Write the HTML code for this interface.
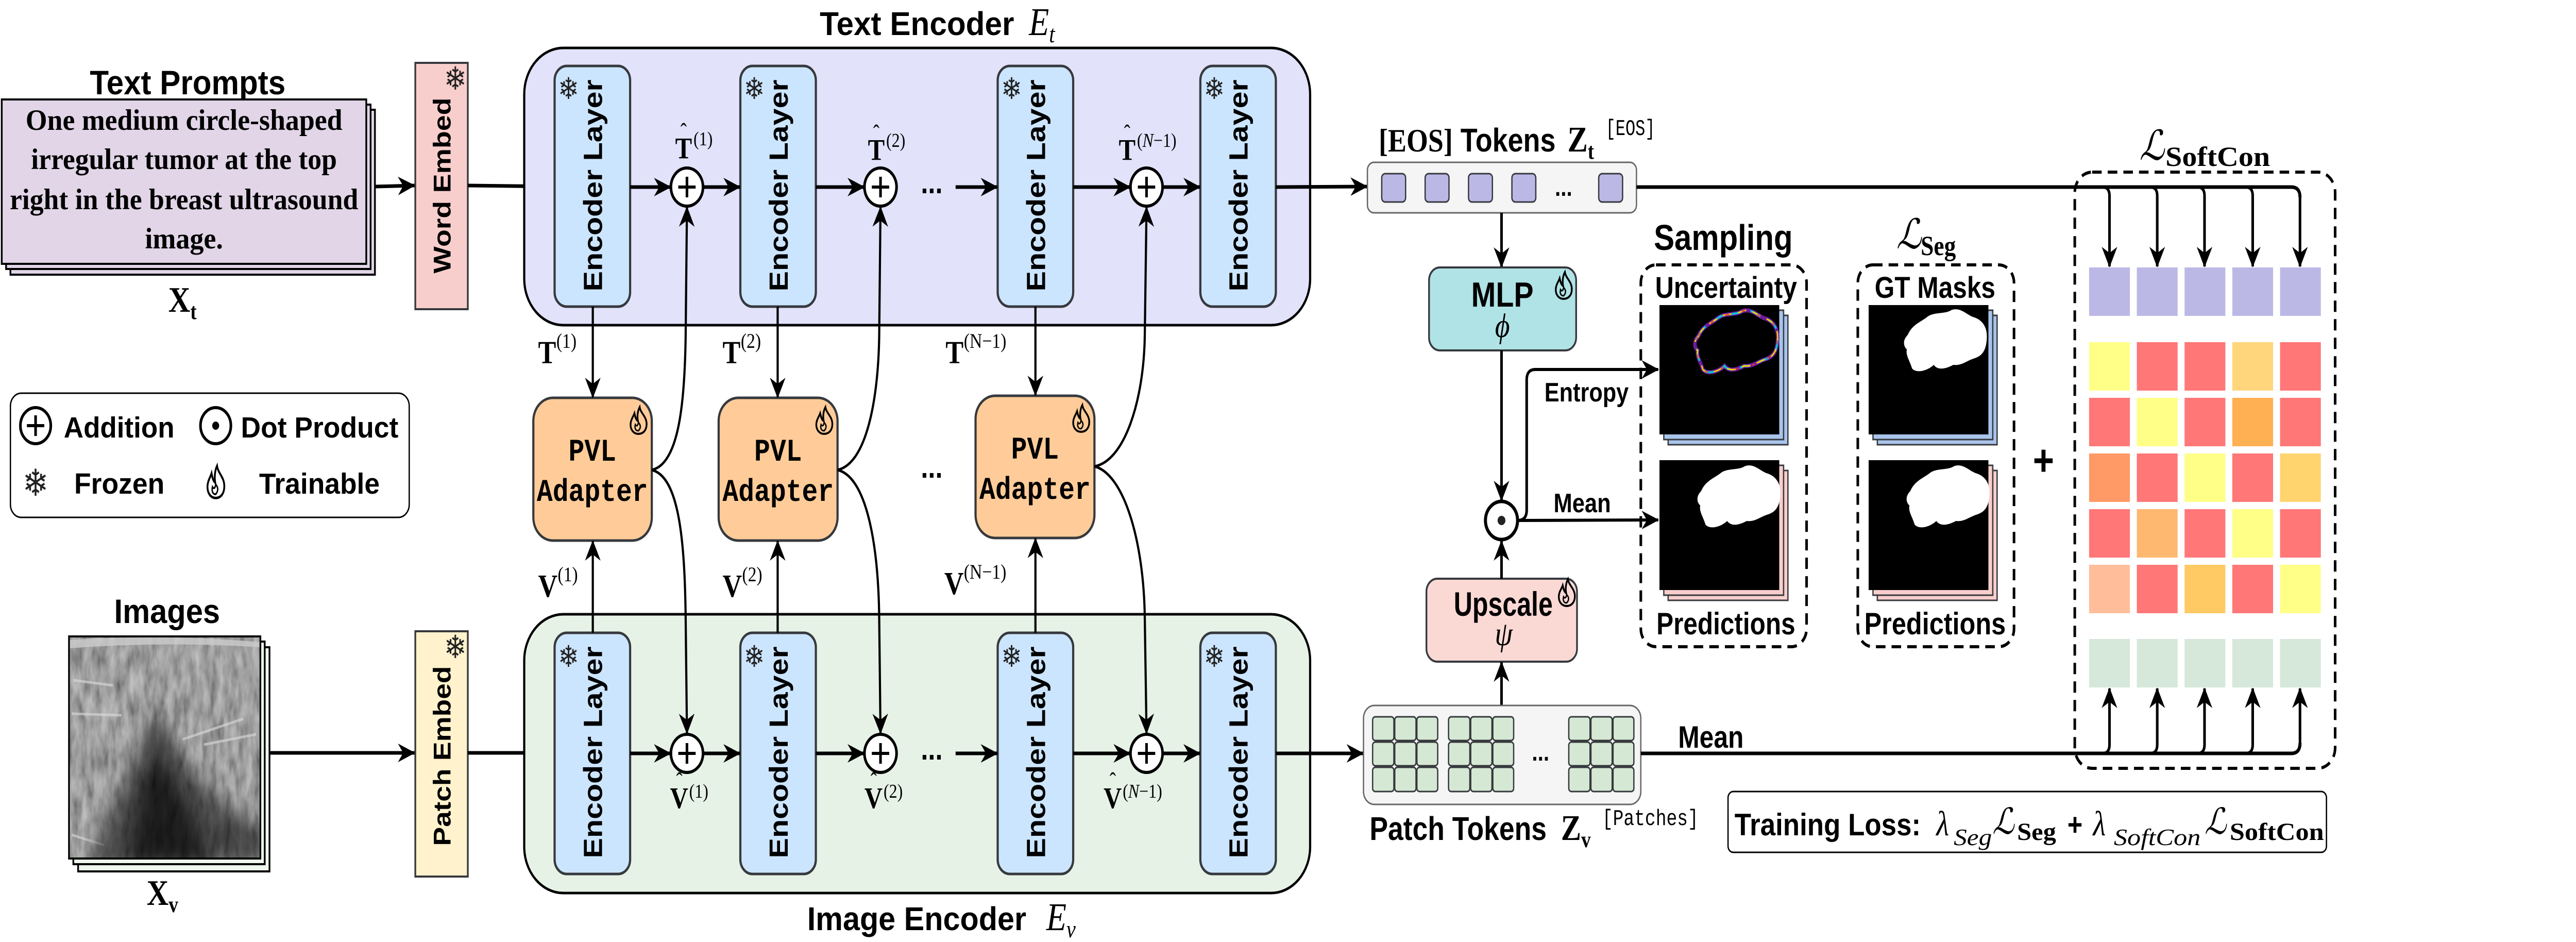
<!DOCTYPE html>
<html><head><meta charset="utf-8"><style>
html,body{margin:0;padding:0;background:#fff;width:100%;height:100%;overflow:hidden;}
svg{display:block;position:absolute;left:0;top:0;width:100vw;height:100vh;}
.s{font-family:"Liberation Sans",sans-serif;font-weight:bold;}
.r{font-family:"Liberation Serif",serif;}
.m{font-family:"Liberation Mono",monospace;}
.sc{font-family:"DejaVu Serif","Liberation Serif",serif;font-style:italic;}
.sf{font-family:"DejaVu Sans",sans-serif;fill:#222;}
</style></head><body>
<svg viewBox="0 0 5936 1828" preserveAspectRatio="none" xmlns="http://www.w3.org/2000/svg">
<defs>
<marker id="a" viewBox="0 0 20 20" refX="19" refY="10" markerWidth="40" markerHeight="40" markerUnits="userSpaceOnUse" orient="auto">
<path d="M0,1 L20,10 L0,19 L6,10 z" fill="#000"/></marker>
<filter id="noise" x="0" y="0" width="1" height="1">
<feTurbulence type="fractalNoise" baseFrequency="0.06 0.02" numOctaves="3" seed="4" result="t"/>
<feColorMatrix in="t" type="matrix" values="0.9 0 0 0 0.05  0.9 0 0 0 0.05  0.9 0 0 0 0.05  0 0 0 0 1"/>
</filter>
<filter id="bl" x="-0.5" y="-0.5" width="2" height="2"><feGaussianBlur stdDeviation="18"/></filter>
<g id="fl"><path d="M22,0 C24,12 38,18 38,33 C38,45 30,52 19,52 C8,52 1,44 1,34 C1,25 7,19 10,12 C12,20 14,25 18,27 C16,19 17,8 22,0 Z" fill="none" stroke="#000" stroke-width="4"/><path d="M19,46 C12,46 10,40 12,34 C15,38 18,36 19,30 C24,34 26,40 19,46 Z" fill="none" stroke="#000" stroke-width="3"/></g>
<path id="blob" d="M90,60 C100,40 120,35 135,25 C150,15 175,20 190,12 C210,5 225,20 240,25 C262,30 275,45 272,70 C270,90 262,100 245,105 C225,110 215,120 195,118 C180,125 160,130 150,118 C135,130 110,135 100,125 C95,110 85,100 88,88 C80,82 78,70 90,60 Z"/>
<clipPath id="usc"><rect x="161" y="1237" width="437" height="427"/></clipPath>
</defs>

<!-- Titles -->
<text class="s" x="1889" y="68" font-size="64" textLength="448" lengthAdjust="spacingAndGlyphs">Text Encoder</text>
<text class="r" x="2371" y="68" font-size="76" font-style="italic">E<tspan font-size="48" dy="14">t</tspan></text>
<text class="s" x="1860" y="1805" font-size="64" textLength="505" lengthAdjust="spacingAndGlyphs">Image Encoder</text>
<text class="r" x="2411" y="1805" font-size="76" font-style="italic">E<tspan font-size="48" dy="14">v</tspan></text>

<!-- Text prompts -->
<text class="s" x="207" y="183" font-size="66" textLength="451" lengthAdjust="spacingAndGlyphs">Text Prompts</text>
<rect x="24" y="213" width="840" height="320" fill="#e1d5e7" stroke="#000" stroke-width="4"/>
<rect x="14" y="203" width="840" height="319" fill="#e1d5e7" stroke="#000" stroke-width="4"/>
<rect x="4" y="193" width="840" height="319" fill="#e1d5e7" stroke="#000" stroke-width="4"/>
<g class="r" font-weight="bold" font-size="57" text-anchor="middle">
<text x="424" y="252" textLength="730" lengthAdjust="spacingAndGlyphs">One medium circle-shaped</text>
<text x="424" y="328" textLength="705" lengthAdjust="spacingAndGlyphs">irregular tumor at the top</text>
<text x="424" y="406" textLength="803" lengthAdjust="spacingAndGlyphs">right in the breast ultrasound</text>
<text x="424" y="482" textLength="180" lengthAdjust="spacingAndGlyphs">image.</text>
</g>
<text class="r" font-weight="bold" x="388" y="605" font-size="70">X<tspan font-size="44" dy="14">t</tspan></text>

<!-- Word embed -->
<rect x="957" y="122" width="121" height="478" fill="#f8cecc" stroke="#36393d" stroke-width="4"/>
<text class="s" transform="translate(1038,360) rotate(-90)" text-anchor="middle" font-size="56" textLength="341" lengthAdjust="spacingAndGlyphs">Word Embed</text>
<text class="sf" x="1049" y="174" font-size="62" text-anchor="middle">❄</text>
<line x1="864" y1="362" x2="955" y2="360" stroke="#000" stroke-width="7" marker-end="url(#a)"/>
<line x1="1078" y1="360" x2="1277" y2="362" stroke="#000" stroke-width="7" marker-end="url(#a)"/>

<!-- Legend -->
<rect x="24" y="763" width="919" height="241" rx="25" fill="#fff" stroke="#000" stroke-width="3"/>
<circle cx="82" cy="826" r="35" fill="none" stroke="#000" stroke-width="6"/>
<path d="M82,806 V846 M62,826 H102" stroke="#000" stroke-width="6"/>
<text class="s" x="147" y="849" font-size="57" textLength="255" lengthAdjust="spacingAndGlyphs">Addition</text>
<circle cx="497" cy="826" r="35" fill="none" stroke="#000" stroke-width="6"/>
<circle cx="497" cy="826" r="8" fill="#000"/>
<text class="s" x="555" y="849" font-size="57" textLength="363" lengthAdjust="spacingAndGlyphs">Dot Product</text>
<text class="sf" x="82" y="962" font-size="72" text-anchor="middle">❄</text>
<text class="s" x="171" y="958" font-size="57" textLength="208" lengthAdjust="spacingAndGlyphs">Frozen</text>
<use href="#fl" transform="translate(477,904) scale(1.05,1.2)"/>
<text class="s" x="597" y="958" font-size="57" textLength="278" lengthAdjust="spacingAndGlyphs">Trainable</text>

<!-- Images -->
<text class="s" x="263" y="1209" font-size="66" textLength="244" lengthAdjust="spacingAndGlyphs">Images</text>
<rect x="180" y="1256" width="441" height="435" fill="#eef8ee" stroke="#000" stroke-width="4"/>
<rect x="169" y="1245" width="441" height="432" fill="#eef8ee" stroke="#000" stroke-width="4"/>
<rect x="159" y="1235" width="441" height="431" fill="#5a5a5a" stroke="#000" stroke-width="4"/>
<g clip-path="url(#usc)">
<rect x="161" y="1237" width="437" height="427" filter="url(#noise)" opacity="0.7"/>
<path d="M161,1242 Q380,1230 598,1246 L598,1256 Q380,1244 161,1258 Z" fill="#ccc" opacity="0.8"/>
<path d="M165,1385 L280,1388 M420,1435 L560,1395 M170,1320 L260,1330 M470,1445 L590,1425 M165,1620 L240,1640" stroke="#ddd" stroke-width="5" opacity="0.6"/>
<path d="M200,1680 C250,1570 300,1500 330,1430 C350,1390 370,1380 385,1410 C420,1480 470,1540 610,1610 L610,1680 Z" fill="#000" opacity="0.55" filter="url(#bl)"/>
<path d="M290,1680 C320,1570 340,1490 360,1460 C380,1480 430,1570 490,1680 Z" fill="#000" opacity="0.6" filter="url(#bl)"/>
</g>
<text class="r" font-weight="bold" x="338" y="1756" font-size="70">X<tspan font-size="44" dy="14">v</tspan></text>

<!-- Patch embed -->
<rect x="957" y="1225" width="121" height="476" fill="#fff2cc" stroke="#36393d" stroke-width="4"/>
<text class="s" transform="translate(1038,1467) rotate(-90)" text-anchor="middle" font-size="56" textLength="349" lengthAdjust="spacingAndGlyphs">Patch Embed</text>
<text class="sf" x="1049" y="1277" font-size="62" text-anchor="middle">❄</text>
<line x1="621" y1="1461" x2="955" y2="1461" stroke="#000" stroke-width="7" marker-end="url(#a)"/>
<line x1="1078" y1="1461" x2="1277" y2="1461" stroke="#000" stroke-width="7" marker-end="url(#a)"/>

<!-- Encoder containers -->
<rect x="1208" y="93" width="1811" height="538" rx="90" fill="#e2e2fb" stroke="#000" stroke-width="5"/>
<rect x="1208" y="1192" width="1811" height="541" rx="90" fill="#e6f2e6" stroke="#000" stroke-width="5"/>

<!-- Encoder layers -->
<g fill="#cce5ff" stroke="#36393d" stroke-width="5">
<rect x="1278" y="128" width="174" height="467" rx="28"/><rect x="1706" y="128" width="174" height="467" rx="28"/>
<rect x="2299" y="128" width="174" height="467" rx="28"/><rect x="2766" y="128" width="174" height="467" rx="28"/>
<rect x="1278" y="1228" width="174" height="468" rx="28"/><rect x="1706" y="1228" width="174" height="468" rx="28"/>
<rect x="2299" y="1228" width="174" height="468" rx="28"/><rect x="2766" y="1228" width="174" height="468" rx="28"/>
</g>
<g class="s" font-size="60" text-anchor="middle">
<text transform="translate(1387,360) rotate(-90)" textLength="411" lengthAdjust="spacingAndGlyphs">Encoder Layer</text>
<text transform="translate(1815,360) rotate(-90)" textLength="411" lengthAdjust="spacingAndGlyphs">Encoder Layer</text>
<text transform="translate(2408,360) rotate(-90)" textLength="411" lengthAdjust="spacingAndGlyphs">Encoder Layer</text>
<text transform="translate(2875,360) rotate(-90)" textLength="411" lengthAdjust="spacingAndGlyphs">Encoder Layer</text>
<text transform="translate(1387,1460) rotate(-90)" textLength="411" lengthAdjust="spacingAndGlyphs">Encoder Layer</text>
<text transform="translate(1815,1460) rotate(-90)" textLength="411" lengthAdjust="spacingAndGlyphs">Encoder Layer</text>
<text transform="translate(2408,1460) rotate(-90)" textLength="411" lengthAdjust="spacingAndGlyphs">Encoder Layer</text>
<text transform="translate(2875,1460) rotate(-90)" textLength="411" lengthAdjust="spacingAndGlyphs">Encoder Layer</text>
</g>
<g class="sf" font-size="58" text-anchor="middle">
<text x="1310" y="192">❄</text><text x="1738" y="192">❄</text><text x="2331" y="192">❄</text><text x="2798" y="192">❄</text>
<text x="1310" y="1294">❄</text><text x="1738" y="1294">❄</text><text x="2331" y="1294">❄</text><text x="2798" y="1294">❄</text>
</g>

<!-- Flow arrows -->
<g stroke="#000" stroke-width="7" fill="none" marker-end="url(#a)">
<line x1="1452" y1="363" x2="1545" y2="363"/><line x1="1620" y1="363" x2="1705" y2="363"/>
<line x1="1880" y1="363" x2="1991" y2="363"/><line x1="2202" y1="363" x2="2298" y2="363"/>
<line x1="2473" y1="363" x2="2604" y2="363"/><line x1="2679" y1="363" x2="2765" y2="363"/>
<line x1="2940" y1="363" x2="3150" y2="362"/>
<line x1="1452" y1="1462" x2="1545" y2="1462"/><line x1="1620" y1="1462" x2="1705" y2="1462"/>
<line x1="1880" y1="1462" x2="1991" y2="1462"/><line x1="2202" y1="1462" x2="2298" y2="1462"/>
<line x1="2473" y1="1462" x2="2604" y2="1462"/><line x1="2679" y1="1462" x2="2765" y2="1462"/>
<line x1="2940" y1="1462" x2="3141" y2="1462"/>
</g>
<g class="s" font-size="60" text-anchor="middle"><text x="2147" y="375">...</text><text x="2147" y="1474">...</text><text x="2147" y="927">...</text></g>

<!-- Plus circles -->
<g fill="#fff" stroke="#000" stroke-width="6">
<circle cx="1583" cy="363" r="37"/><circle cx="2029" cy="363" r="37"/><circle cx="2642" cy="363" r="37"/>
<circle cx="1583" cy="1462" r="37"/><circle cx="2029" cy="1462" r="37"/><circle cx="2642" cy="1462" r="37"/>
</g>
<g stroke="#000" stroke-width="6">
<path d="M1583,343 V383 M1563,363 H1603 M2029,343 V383 M2009,363 H2049 M2642,343 V383 M2622,363 H2662"/>
<path d="M1583,1442 V1482 M1563,1462 H1603 M2029,1442 V1482 M2009,1462 H2049 M2642,1442 V1482 M2622,1462 H2662"/>
</g>

<!-- Adapters -->
<g fill="#ffcc99" stroke="#36393d" stroke-width="5">
<rect x="1229" y="772" width="273" height="277" rx="45"/><rect x="1656" y="772" width="274" height="277" rx="45"/>
<rect x="2248" y="768" width="274" height="276" rx="45"/>
</g>
<g class="m" font-weight="bold" font-size="61" text-anchor="middle">
<text x="1365" y="894">PVL</text><text x="1365" y="972">Adapter</text>
<text x="1793" y="894">PVL</text><text x="1793" y="972">Adapter</text>
<text x="2385" y="890">PVL</text><text x="2385" y="968">Adapter</text>
</g>
<use href="#fl" transform="translate(1452,790)"/><use href="#fl" transform="translate(1880,790)"/><use href="#fl" transform="translate(2472,786)"/>

<!-- Vertical T / V arrows -->
<g stroke="#000" stroke-width="5" fill="none" marker-end="url(#a)">
<line x1="1366" y1="595" x2="1366" y2="771"/><line x1="1792" y1="595" x2="1792" y2="771"/><line x1="2386" y1="595" x2="2386" y2="767"/>
<line x1="1366" y1="1228" x2="1366" y2="1050"/><line x1="1792" y1="1228" x2="1792" y2="1050"/><line x1="2386" y1="1228" x2="2386" y2="1045"/>
<path d="M1502,912 C1565,900 1578,780 1580,650 L1583,402"/>
<path d="M1502,912 C1565,925 1578,1050 1580,1200 L1583,1423"/>
<path d="M1930,912 C1995,900 2024,780 2026,650 L2029,402"/>
<path d="M1930,912 C1995,925 2024,1050 2026,1200 L2029,1423"/>
<path d="M2522,905 C2590,895 2636,780 2638,650 L2642,402"/>
<path d="M2522,905 C2590,920 2636,1050 2638,1200 L2642,1423"/>
</g>

<!-- Math labels -->
<g class="r" font-weight="bold">
<text x="1240" y="705" font-size="62">T</text><text x="1282" y="675" font-size="40" font-weight="normal">(1)</text>
<text x="1665" y="705" font-size="62">T</text><text x="1707" y="675" font-size="40" font-weight="normal">(2)</text>
<text x="2179" y="705" font-size="62">T</text><text x="2221" y="675" font-size="40" font-weight="normal">(N−1)</text>
<text x="1240" y="1158" font-size="62">V</text><text x="1285" y="1128" font-size="40" font-weight="normal">(1)</text>
<text x="1665" y="1158" font-size="62">V</text><text x="1710" y="1128" font-size="40" font-weight="normal">(2)</text>
<text x="2176" y="1153" font-size="62">V</text><text x="2221" y="1123" font-size="40" font-weight="normal">(N−1)</text>
<text x="1556" y="307" font-size="58">T</text><text x="1568" y="270" font-size="44" font-weight="normal">ˆ</text><text x="1598" y="282" font-size="38" font-weight="normal">(1)</text>
<text x="2000" y="310" font-size="58">T</text><text x="2012" y="273" font-size="44" font-weight="normal">ˆ</text><text x="2042" y="285" font-size="38" font-weight="normal">(2)</text>
<text x="2578" y="310" font-size="58">T</text><text x="2590" y="273" font-size="44" font-weight="normal">ˆ</text><text x="2620" y="285" font-size="38" font-weight="normal">(<tspan font-style="italic">N</tspan>−1)</text>
<text x="1544" y="1568" font-size="58">V</text><text x="1558" y="1530" font-size="44" font-weight="normal">ˆ</text><text x="1588" y="1548" font-size="38" font-weight="normal">(1)</text>
<text x="1992" y="1568" font-size="58">V</text><text x="2006" y="1530" font-size="44" font-weight="normal">ˆ</text><text x="2036" y="1548" font-size="38" font-weight="normal">(2)</text>
<text x="2543" y="1568" font-size="58">V</text><text x="2557" y="1530" font-size="44" font-weight="normal">ˆ</text><text x="2587" y="1548" font-size="38" font-weight="normal">(<tspan font-style="italic">N</tspan>−1)</text>
</g>

<!-- EOS tokens -->
<text x="3177" y="294" font-size="64"><tspan class="r" font-weight="bold">[EOS]</tspan><tspan class="s"> Tokens</tspan></text>
<text class="r" font-weight="bold" x="3612" y="294" font-size="70">Z<tspan font-size="44" dy="14">t</tspan></text>
<text class="m" x="3700" y="262" font-size="44" textLength="114" lengthAdjust="spacingAndGlyphs">[EOS]</text>
<rect x="3151" y="315" width="620" height="98" rx="15" fill="#f5f5f5" stroke="#666" stroke-width="3"/>
<g fill="#bcb8e6" stroke="#36393d" stroke-width="3">
<rect x="3184" y="337" width="55" height="55" rx="8"/><rect x="3284" y="337" width="55" height="55" rx="8"/>
<rect x="3384" y="337" width="55" height="55" rx="8"/><rect x="3484" y="337" width="55" height="55" rx="8"/>
<rect x="3684" y="337" width="55" height="55" rx="8"/></g>
<text class="s" x="3603" y="380" font-size="48" text-anchor="middle">...</text>

<!-- MLP / upscale -->
<line x1="3460" y1="413" x2="3460" y2="518" stroke="#000" stroke-width="6" marker-end="url(#a)"/>
<rect x="3293" y="519" width="339" height="161" rx="25" fill="#b0e3e6" stroke="#36393d" stroke-width="4"/>
<text class="s" x="3462" y="595" font-size="68" text-anchor="middle">MLP</text>
<text class="r" x="3462" y="654" font-size="66" font-style="italic" text-anchor="middle">ϕ</text>
<use href="#fl" transform="translate(3584,528)"/>
<line x1="3460" y1="680" x2="3460" y2="971" stroke="#000" stroke-width="6" marker-end="url(#a)"/>
<rect x="3287" y="1123" width="347" height="161" rx="25" fill="#fad9d5" stroke="#36393d" stroke-width="4"/>
<text class="s" x="3350" y="1195" font-size="66" textLength="228" lengthAdjust="spacingAndGlyphs">Upscale</text>
<text class="r" x="3465" y="1252" font-size="66" font-style="italic" text-anchor="middle">ψ</text>
<use href="#fl" transform="translate(3591,1124)"/>
<line x1="3460" y1="1123" x2="3460" y2="1050" stroke="#000" stroke-width="6" marker-end="url(#a)"/>
<line x1="3460" y1="1369" x2="3460" y2="1285" stroke="#000" stroke-width="6" marker-end="url(#a)"/>
<circle cx="3460" cy="1010" r="37" fill="#fff" stroke="#000" stroke-width="7"/>
<circle cx="3460" cy="1010" r="9" fill="#222"/>
<path d="M3497,1010 Q3518,1010 3518,990 L3518,737 Q3518,717 3538,717 L3821,717" stroke="#000" stroke-width="6" fill="none" marker-end="url(#a)"/>
<line x1="3497" y1="1010" x2="3821" y2="1009" stroke="#000" stroke-width="6" marker-end="url(#a)"/>
<text class="s" x="3559" y="779" font-size="52" textLength="194" lengthAdjust="spacingAndGlyphs">Entropy</text>
<text class="s" x="3580" y="994" font-size="52" textLength="132" lengthAdjust="spacingAndGlyphs">Mean</text>

<!-- Patch tokens -->
<rect x="3142" y="1369" width="639" height="192" rx="25" fill="#f5f5f5" stroke="#666" stroke-width="3"/>
<g fill="#d5e8d4" stroke="#36393d" stroke-width="3">
<rect x="3163" y="1391" width="49" height="46" rx="6"/><rect x="3214" y="1391" width="49" height="46" rx="6"/><rect x="3265" y="1391" width="48" height="46" rx="6"/>
<rect x="3163" y="1440" width="49" height="46" rx="6"/><rect x="3214" y="1440" width="49" height="46" rx="6"/><rect x="3265" y="1440" width="48" height="46" rx="6"/>
<rect x="3163" y="1489" width="49" height="47" rx="6"/><rect x="3214" y="1489" width="49" height="47" rx="6"/><rect x="3265" y="1489" width="48" height="47" rx="6"/>
<rect x="3338" y="1391" width="49" height="46" rx="6"/><rect x="3389" y="1391" width="49" height="46" rx="6"/><rect x="3440" y="1391" width="48" height="46" rx="6"/>
<rect x="3338" y="1440" width="49" height="46" rx="6"/><rect x="3389" y="1440" width="49" height="46" rx="6"/><rect x="3440" y="1440" width="48" height="46" rx="6"/>
<rect x="3338" y="1489" width="49" height="47" rx="6"/><rect x="3389" y="1489" width="49" height="47" rx="6"/><rect x="3440" y="1489" width="48" height="47" rx="6"/>
<rect x="3615" y="1391" width="49" height="46" rx="6"/><rect x="3666" y="1391" width="49" height="46" rx="6"/><rect x="3717" y="1391" width="48" height="46" rx="6"/>
<rect x="3615" y="1440" width="49" height="46" rx="6"/><rect x="3666" y="1440" width="49" height="46" rx="6"/><rect x="3717" y="1440" width="48" height="46" rx="6"/>
<rect x="3615" y="1489" width="49" height="47" rx="6"/><rect x="3666" y="1489" width="49" height="47" rx="6"/><rect x="3717" y="1489" width="48" height="47" rx="6"/>
</g>
<text class="s" x="3550" y="1476" font-size="48" text-anchor="middle">...</text>
<text class="s" x="3156" y="1630" font-size="64" textLength="408" lengthAdjust="spacingAndGlyphs">Patch Tokens</text>
<text class="r" font-weight="bold" x="3597" y="1630" font-size="70">Z<tspan font-size="44" dy="14">v</tspan></text>
<text class="m" x="3692" y="1601" font-size="44" textLength="222" lengthAdjust="spacingAndGlyphs">[Patches]</text>

<!-- Sampling -->
<text class="s" x="3811" y="485" font-size="70" textLength="320" lengthAdjust="spacingAndGlyphs">Sampling</text>
<rect x="3781" y="514" width="382" height="741" rx="35" fill="none" stroke="#000" stroke-width="6" stroke-dasharray="22,14"/>
<text class="s" x="3814" y="578" font-size="58" textLength="327" lengthAdjust="spacingAndGlyphs">Uncertainty</text>
<rect x="3844" y="612" width="276" height="251" fill="#a9c4eb" stroke="#36393d" stroke-width="3"/>
<rect x="3834" y="602" width="276" height="251" fill="#a9c4eb" stroke="#36393d" stroke-width="3"/>
<rect x="3824" y="592" width="276" height="251" fill="#000"/>
<g transform="translate(3824,592)" fill="none">
<use href="#blob" stroke="#6a1b9a" stroke-width="8"/><use href="#blob" stroke="#00c8e0" stroke-width="4" stroke-dasharray="25,20"/><use href="#blob" stroke="#ffd000" stroke-width="3" stroke-dasharray="20,15"/><use href="#blob" stroke="#ff3030" stroke-width="2" stroke-dasharray="8,30"/>
</g>
<rect x="3844" y="913" width="276" height="252" fill="#f8cecc" stroke="#36393d" stroke-width="3"/>
<rect x="3834" y="903" width="276" height="252" fill="#f8cecc" stroke="#36393d" stroke-width="3"/>
<rect x="3824" y="893" width="276" height="252" fill="#000"/>
<use href="#blob" transform="translate(3830,893)" fill="#fff"/>
<text class="s" x="3817" y="1231" font-size="60" textLength="320" lengthAdjust="spacingAndGlyphs">Predictions</text>

<!-- L_Seg -->
<text class="sc" x="4370" y="482" font-size="80">ℒ</text>
<text class="r" font-weight="bold" x="4426" y="495" font-size="54">Seg</text>
<rect x="4281" y="514" width="360" height="741" rx="35" fill="none" stroke="#000" stroke-width="6" stroke-dasharray="22,14"/>
<text class="s" x="4320" y="578" font-size="58" textLength="278" lengthAdjust="spacingAndGlyphs">GT Masks</text>
<rect x="4326" y="612" width="276" height="251" fill="#a9c4eb" stroke="#36393d" stroke-width="3"/>
<rect x="4316" y="602" width="276" height="251" fill="#a9c4eb" stroke="#36393d" stroke-width="3"/>
<rect x="4306" y="592" width="276" height="251" fill="#000"/>
<use href="#blob" transform="translate(4306,590)" fill="#fff"/>
<rect x="4326" y="913" width="276" height="252" fill="#f8cecc" stroke="#36393d" stroke-width="3"/>
<rect x="4316" y="903" width="276" height="252" fill="#f8cecc" stroke="#36393d" stroke-width="3"/>
<rect x="4306" y="893" width="276" height="252" fill="#000"/>
<use href="#blob" transform="translate(4312,893)" fill="#fff"/>
<text class="s" x="4296" y="1231" font-size="60" textLength="326" lengthAdjust="spacingAndGlyphs">Predictions</text>

<text class="s" x="4709" y="922" font-size="84" text-anchor="middle">+</text>

<!-- SoftCon -->
<text class="sc" x="4930" y="310" font-size="80">ℒ</text>
<text class="r" font-weight="bold" x="4990" y="322" font-size="54" textLength="241" lengthAdjust="spacingAndGlyphs">SoftCon</text>
<rect x="4781" y="334" width="600" height="1157" rx="40" fill="none" stroke="#000" stroke-width="6" stroke-dasharray="22,14"/>
<g fill="#bcb8e6"><rect x="4814" y="519" width="94" height="94"/><rect x="4924" y="519" width="94" height="94"/><rect x="5034" y="519" width="94" height="94"/><rect x="5144" y="519" width="94" height="94"/><rect x="5254" y="519" width="94" height="94"/></g>
<rect x="4814" y="664" width="94" height="94" fill="#ffff88"/><rect x="4924" y="664" width="94" height="94" fill="#ff7777"/><rect x="5034" y="664" width="94" height="94" fill="#ff7777"/><rect x="5144" y="664" width="94" height="94" fill="#ffd67c"/><rect x="5254" y="664" width="94" height="94" fill="#ff7777"/>
<rect x="4814" y="772" width="94" height="94" fill="#ff7777"/><rect x="4924" y="772" width="94" height="94" fill="#ffff88"/><rect x="5034" y="772" width="94" height="94" fill="#ff7777"/><rect x="5144" y="772" width="94" height="94" fill="#ffb052"/><rect x="5254" y="772" width="94" height="94" fill="#ff7777"/>
<rect x="4814" y="880" width="94" height="94" fill="#ff9966"/><rect x="4924" y="880" width="94" height="94" fill="#ff7777"/><rect x="5034" y="880" width="94" height="94" fill="#ffff88"/><rect x="5144" y="880" width="94" height="94" fill="#ff7777"/><rect x="5254" y="880" width="94" height="94" fill="#ffd36e"/>
<rect x="4814" y="988" width="94" height="94" fill="#ff7777"/><rect x="4924" y="988" width="94" height="94" fill="#ffb870"/><rect x="5034" y="988" width="94" height="94" fill="#ff7777"/><rect x="5144" y="988" width="94" height="94" fill="#ffff88"/><rect x="5254" y="988" width="94" height="94" fill="#ff7777"/>
<rect x="4814" y="1096" width="94" height="94" fill="#ffbe99"/><rect x="4924" y="1096" width="94" height="94" fill="#ff7777"/><rect x="5034" y="1096" width="94" height="94" fill="#ffc964"/><rect x="5144" y="1096" width="94" height="94" fill="#ff7777"/><rect x="5254" y="1096" width="94" height="94" fill="#ffff88"/>
<g fill="#d5e8d9"><rect x="4814" y="1240" width="94" height="94"/><rect x="4924" y="1240" width="94" height="94"/><rect x="5034" y="1240" width="94" height="94"/><rect x="5144" y="1240" width="94" height="94"/><rect x="5254" y="1240" width="94" height="94"/></g>

<path d="M3771,363 L5280,363 Q5300,363 5300,383" stroke="#000" stroke-width="7" fill="none"/>
<path d="M3781,1462 L5280,1462 Q5300,1462 5300,1442" stroke="#000" stroke-width="7" fill="none"/>
<g stroke="#000" stroke-width="6" fill="none" marker-end="url(#a)">
<path d="M4845,363 Q4861,363 4861,380 L4861,517"/><path d="M4955,363 Q4971,363 4971,380 L4971,517"/><path d="M5064,363 Q5080,363 5080,380 L5080,517"/><path d="M5175,363 Q5191,363 5191,380 L5191,517"/><path d="M5300,380 L5300,517"/>
<path d="M4845,1462 Q4861,1462 4861,1445 L4861,1336"/><path d="M4955,1462 Q4971,1462 4971,1445 L4971,1336"/><path d="M5064,1462 Q5080,1462 5080,1445 L5080,1336"/><path d="M5175,1462 Q5191,1462 5191,1445 L5191,1336"/><path d="M5300,1445 L5300,1336"/>
</g>
<text class="s" x="3867" y="1451" font-size="60" textLength="151" lengthAdjust="spacingAndGlyphs">Mean</text>

<!-- Training loss -->
<rect x="3982" y="1536" width="1379" height="118" rx="12" fill="#fff" stroke="#000" stroke-width="3"/>
<text class="s" x="3997" y="1621" font-size="60" textLength="429" lengthAdjust="spacingAndGlyphs">Training Loss:</text>
<text class="r" font-style="italic" x="4462" y="1621" font-size="68">λ</text>
<text class="r" font-style="italic" x="4502" y="1640" font-size="46" textLength="88" lengthAdjust="spacingAndGlyphs">Seg</text>
<text class="sc" x="4591" y="1618" font-size="70">ℒ</text>
<text class="r" font-weight="bold" x="4648" y="1630" font-size="48" textLength="90" lengthAdjust="spacingAndGlyphs">Seg</text>
<text class="s" x="4764" y="1621" font-size="60">+</text>
<text class="r" font-style="italic" x="4823" y="1621" font-size="68">λ</text>
<text class="r" font-style="italic" x="4871" y="1640" font-size="46" textLength="200" lengthAdjust="spacingAndGlyphs">SoftCon</text>
<text class="sc" x="5080" y="1618" font-size="70">ℒ</text>
<text class="r" font-weight="bold" x="5138" y="1630" font-size="48" textLength="217" lengthAdjust="spacingAndGlyphs">SoftCon</text>
</svg>
</body></html>
